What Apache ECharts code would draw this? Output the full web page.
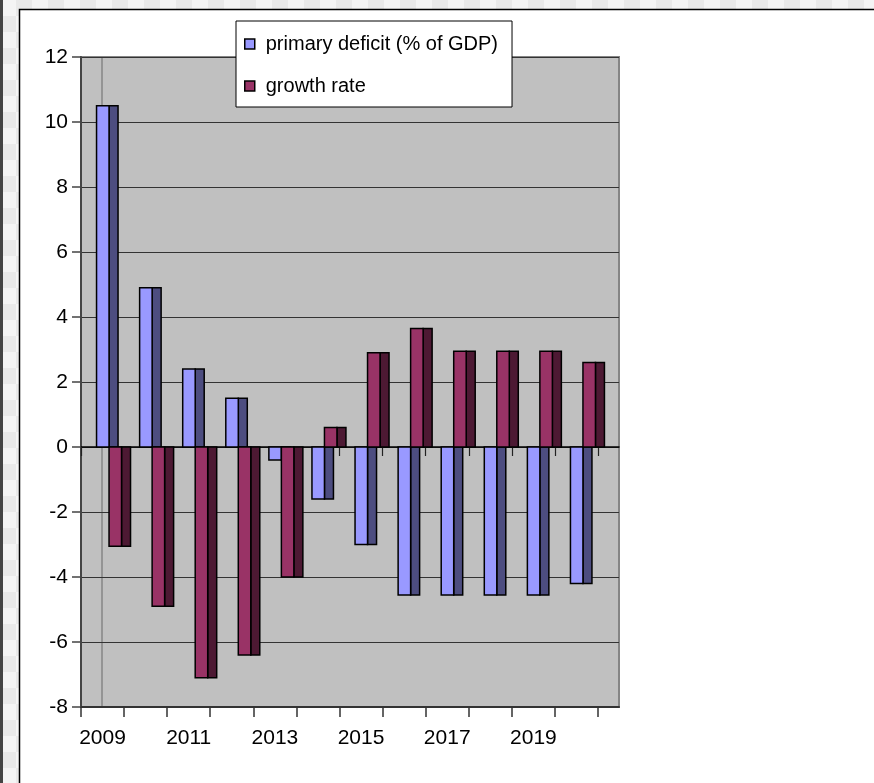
<!DOCTYPE html>
<html>
<head>
<meta charset="utf-8">
<title>Primary deficit and growth rate</title>
<script src="https://cdn.jsdelivr.net/npm/echarts@6/dist/echarts.min.js"></script>
<style>
  html, body { margin: 0; padding: 0; }
  body {
    width: 874px; height: 783px; overflow: hidden;
    background-color: #f2f2f2;
    background-image: repeating-conic-gradient(#e9e9e9 0% 25%, #f4f4f4 0% 50%);
    background-size: 32px 32px;
  }
  #chart { position: absolute; left: 0; top: 0; width: 874px; height: 783px; }
</style>
</head>
<body>
<div id="chart"></div>
<script>
// Years on the category axis
const years = ['2009', '2010', '2011', '2012', '2013', '2014', '2015', '2016', '2017', '2018', '2019', '2020'];
// Primary deficit, % of GDP
const primaryDeficit = [10.5, 4.9, 2.4, 1.5, -0.4, -1.6, -3.0, -4.55, -4.55, -4.55, -4.55, -4.2];
// Real GDP growth rate, %
const growthRate = [-3.05, -4.9, -7.1, -6.4, -4.0, 0.6, 2.9, 3.65, 2.95, 2.95, 2.95, 2.6];
// Value axis ticks
const yTicks = [-8, -6, -4, -2, 0, 2, 4, 6, 8, 10, 12];

const seriesNames = ['primary deficit (% of GDP)', 'growth rate'];
const FONT = '"Liberation Sans", Arial, sans-serif';

const yMin = yTicks[0];
const yMax = yTicks[yTicks.length - 1];
const yStep = yTicks[1] - yTicks[0];

// Column with a flat front face and a darker side face to its right.
// Offsets are fractions of the category band width, measured from the band centre.
function columnRenderer(frontColor, sideColor, frontLeft, frontRight, sideRight) {
  return function (params, api) {
    const idx = api.value(0);
    const val = api.value(1);
    const base = api.coord([idx, 0]);
    const end = api.coord([idx, val]);
    const band = api.size([1, 0])[0];
    const x0 = base[0] + frontLeft * band;
    const x1 = base[0] + frontRight * band;
    const x2 = base[0] + sideRight * band;
    const y = Math.min(base[1], end[1]);
    const h = Math.abs(base[1] - end[1]);
    return {
      type: 'group',
      children: [
        { type: 'rect', shape: { x: x1, y: y, width: x2 - x1, height: h },
          style: { fill: sideColor, stroke: '#000', lineWidth: 1.5 } },
        { type: 'rect', shape: { x: x0, y: y, width: x1 - x0, height: h },
          style: { fill: frontColor, stroke: '#000', lineWidth: 1.5 } }
      ]
    };
  };
}

const chart = echarts.init(document.getElementById('chart'), null, { renderer: 'canvas' });

const plotTop = 57, plotBottom = 76;

chart.setOption({
  backgroundColor: 'transparent',
  animation: false,
  graphic: [
    { type: 'rect', z: -10, shape: { x: 0, y: 0, width: 3, height: 783 }, style: { fill: '#444' } },
    { type: 'rect', z: -10, shape: { x: 19.5, y: 9.5, width: 900, height: 800 },
      style: { fill: '#fff', stroke: '#000', lineWidth: 1.5 } }
  ],
  legend: {
    orient: 'vertical',
    left: 236,
    top: 21,
    data: seriesNames,
    backgroundColor: '#fff',
    borderColor: '#000',
    borderWidth: 1,
    borderRadius: 0,
    padding: [13, 14, 11, 8],
    itemGap: 22,
    itemWidth: 10,
    itemHeight: 10,
    icon: 'rect',
    itemStyle: { borderColor: '#000', borderWidth: 1.5 },
    textStyle: { fontFamily: FONT, fontSize: 20, color: '#000', lineHeight: 20, padding: [0, 0, 0, 6] }
  },
  grid: [
    // full wall, including the depth strip on the right
    { left: 81, right: 255, top: plotTop, bottom: plotBottom, show: true,
      backgroundColor: '#c0c0c0', borderColor: '#858585', borderWidth: 2 },
    // front plane carrying the categories
    { left: 81, right: 276, top: plotTop, bottom: plotBottom },
    // back wall outline
    { left: 102, right: 255, top: plotTop, bottom: plotBottom, show: true,
      backgroundColor: 'transparent', borderColor: '#858585', borderWidth: 1.5 }
  ],
  xAxis: [
    { gridIndex: 0, type: 'value', min: 0, max: 1, position: 'bottom',
      axisLine: { onZero: false, lineStyle: { color: '#333', width: 2 } },
      axisTick: { show: false }, axisLabel: { show: false }, splitLine: { show: false } },
    { gridIndex: 0, type: 'value', min: 0, max: 1, position: 'bottom',
      axisLine: { onZero: true, lineStyle: { color: '#000', width: 1.5 } },
      axisTick: { show: false }, axisLabel: { show: false }, splitLine: { show: false } },
    { gridIndex: 1, type: 'category', data: years, position: 'bottom',
      axisLine: { show: false, onZero: false },
      axisTick: { show: true, interval: 0, length: 10, lineStyle: { color: '#333', width: 1.5 } },
      axisLabel: { interval: 1, margin: 21, fontFamily: FONT, fontSize: 21, color: '#000' },
      splitLine: { show: false } },
    { gridIndex: 1, type: 'category', data: years, position: 'bottom',
      axisLine: { show: false, onZero: true },
      axisTick: { show: true, interval: 0, length: 9, lineStyle: { color: '#222', width: 1.2 } },
      axisLabel: { show: false }, splitLine: { show: false } },
    { gridIndex: 2, type: 'value', min: 0, max: 1, show: false }
  ],
  yAxis: [
    { gridIndex: 0, type: 'value', min: yMin, max: yMax, interval: yStep,
      axisLine: { show: true, lineStyle: { color: '#444', width: 2 } },
      axisTick: { show: true, length: 9, lineStyle: { color: '#444', width: 1.5 } },
      axisLabel: { margin: 13, fontFamily: FONT, fontSize: 21, color: '#000' },
      splitLine: { show: true, lineStyle: { color: '#333', width: 1 } } },
    { gridIndex: 1, type: 'value', min: yMin, max: yMax, interval: yStep, show: false,
      splitLine: { show: false } },
    { gridIndex: 2, type: 'value', min: yMin, max: yMax, interval: yStep, show: false,
      splitLine: { show: false } }
  ],
  series: [
    {
      name: seriesNames[0],
      type: 'custom',
      xAxisIndex: 2,
      yAxisIndex: 1,
      z: 3,
      itemStyle: { color: '#9999ff', borderColor: '#000', borderWidth: 1.5 },
      encode: { x: 0, y: 1 },
      renderItem: columnRenderer('#9999ff', '#4d4d80', -6 / 43.1, 6.5 / 43.1, 15.5 / 43.1),
      data: primaryDeficit.map((v, i) => [i, v])
    },
    {
      name: seriesNames[1],
      type: 'custom',
      xAxisIndex: 2,
      yAxisIndex: 1,
      z: 4,
      itemStyle: { color: '#993366', borderColor: '#000', borderWidth: 1.5 },
      encode: { x: 0, y: 1 },
      renderItem: columnRenderer('#993366', '#4d1933', 6.5 / 43.1, 19 / 43.1, 28 / 43.1),
      data: growthRate.map((v, i) => [i, v])
    }
  ]
});
</script>
</body>
</html>
